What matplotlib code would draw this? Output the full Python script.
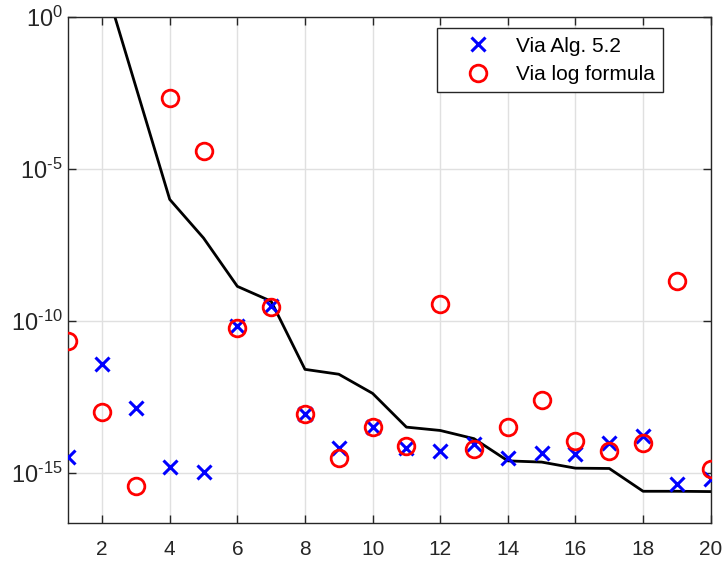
import numpy as np
import matplotlib.pyplot as plt

# ---------------------------------------------------------------------------
# data (log10 of the values)
# ---------------------------------------------------------------------------
n = np.arange(1, 21)

log_bound = [5.0, 1.4, -2.3, -6.0, -7.27, -8.86, -9.35, -11.59, -11.75, -12.38,
             -13.49, -13.60, -13.87, -14.60, -14.64, -14.84, -14.85, -15.60,
             -15.60, -15.61]

log_alg = [-14.47, -11.43, -12.85, -14.79, -14.95, -10.17, -9.51, -13.07, -14.19,
           -13.49, -14.19, -14.29, -14.05, -14.51, -14.33, -14.38, -14.02, -13.78,
           -15.37, -15.21]

log_formula = [-10.67, -12.99, -15.44, -2.67, -4.42, -10.22, -9.53, -13.07, -14.52,
               -13.50, -14.11, -9.45, -14.22, -13.50, -12.60, -13.94, -14.29, -14.00,
               -8.69, -14.87]

ytick_exp = ['-15', '-10', '-5', '0']

bound = 10.0 ** np.array(log_bound)
err_alg = 10.0 ** np.array(log_alg)
err_formula = 10.0 ** np.array(log_formula)

# ---------------------------------------------------------------------------
plt.rcParams['font.family'] = ['Liberation Sans', 'DejaVu Sans']
plt.rcParams['mathtext.fontset'] = 'custom'
plt.rcParams['mathtext.rm'] = 'Liberation Sans'
plt.rcParams['mathtext.default'] = 'rm'
axcol = (0.15, 0.15, 0.15)

fig = plt.figure(figsize=(7.25, 5.65), dpi=100)
ax = fig.add_axes([0.0942, 0.0738, 0.9803 - 0.0942, 0.9699 - 0.0738])

ax.semilogy(n, err_alg, 'x', color='blue', markersize=10.5, markeredgewidth=2.2,
            label='Via Alg. 5.2', zorder=3)
ax.semilogy(n, err_formula, 'o', color='red', markerfacecolor='none',
            markersize=12, markeredgewidth=2, label='Via log formula', zorder=3)
ax.semilogy(n, bound, '-', color='black', linewidth=2, zorder=2)

ax.set_xlim(1, 20)
ax.set_ylim(np.finfo(float).eps / 10, 1)
ax.set_xticks(np.arange(2, 21, 2))
ax.set_yticks([10.0 ** int(e) for e in ytick_exp])
ax.set_yticklabels([r'$10^{\text{%s}}$' % e for e in ytick_exp])
ax.minorticks_off()

ax.grid(True, color=(0.88, 0.88, 0.88), linewidth=1)
ax.set_axisbelow(True)
ax.tick_params(direction='in', length=6, width=1, top=True, right=True,
               colors=axcol)
ax.tick_params(axis='x', labelsize=15, pad=12)
ax.tick_params(axis='y', labelsize=17, pad=4)
for s in ax.spines.values():
    s.set_color(axcol)
    s.set_linewidth(1)

leg = ax.legend(loc='upper left', bbox_to_anchor=(436.7 / 725, 1 - 28.3 / 565),
                bbox_transform=fig.transFigure, fontsize=15, fancybox=False,
                edgecolor=axcol, framealpha=1, borderaxespad=0,
                handlelength=3.2, handletextpad=0.2, borderpad=0.4,
                labelspacing=0.45)
leg.get_frame().set_linewidth(1)

fig.savefig('out.png', dpi=100)
